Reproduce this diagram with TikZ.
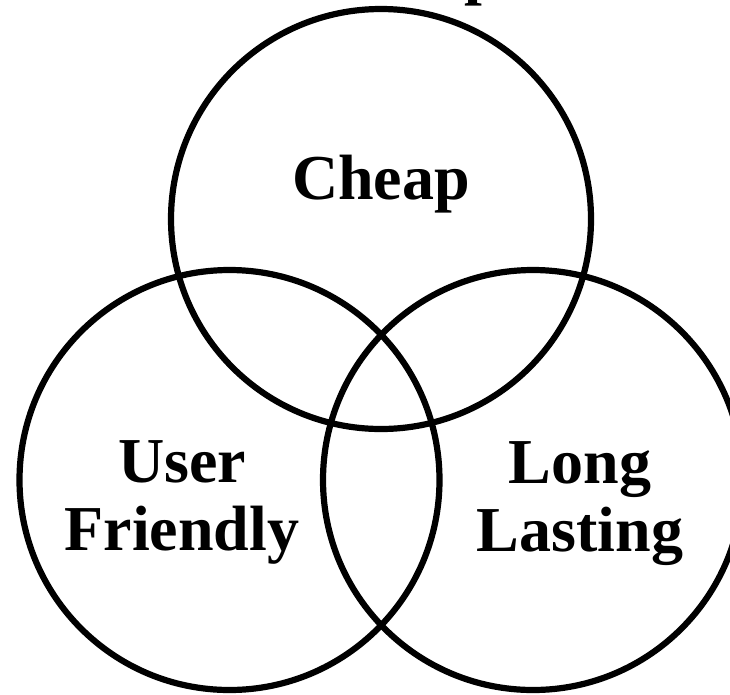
\documentclass[tikz,border=0pt]{standalone}
\usepackage{fontspec}
\setmainfont{Liberation Serif}
\begin{document}
\begin{tikzpicture}[x=1pt,y=-1pt]
\tikzset{
  ring/.style={draw=black,line width=6.2pt,circle,minimum size=420pt,inner sep=0pt},
  lbl/.style={font=\bfseries\fontsize{64}{68}\selectfont,align=center,inner sep=0pt,anchor=base}
}
\useasboundingbox (0,0) rectangle (730,694);
\node[ring] (cheapring) at (381,219) {};
\node[ring] (userring) at (229.5,480) {};
\node[ring] (longring) at (533,480) {};
\node[lbl] (toptext) at (411,-8) {Cheap};
\node[lbl] (cheap) at (381,199) {Cheap};
\node[lbl] (user) at (182,550) {User\\Friendly};
\node[lbl] (long) at (580,551) {Long\\Lasting};
\end{tikzpicture}
\end{document}
